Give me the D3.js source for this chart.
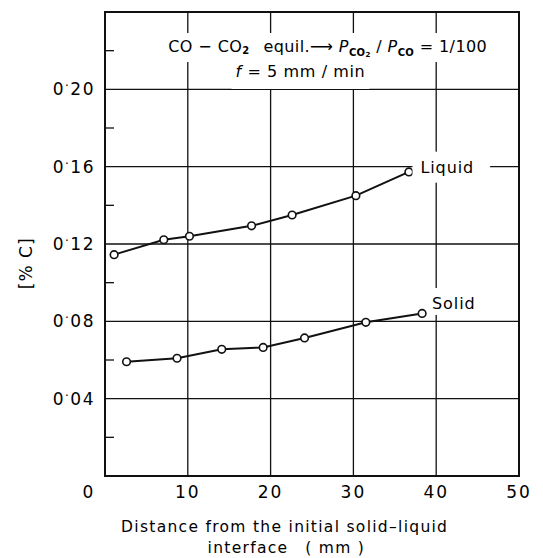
<!DOCTYPE html>
<html>
<head>
<meta charset="utf-8">
<script src="https://cdn.jsdelivr.net/npm/d3@7"></script>
<style>
  body { margin: 0; background: white; }
  svg { font-family: "DejaVu Sans", sans-serif; }
</style>
</head>
<body>
<div class="chart"></div>
<script>
// values
const liquidX = [1.1, 7.1, 10.2, 17.7, 22.6, 30.3, 36.7];
const liquidC = [0.1145, 0.1222, 0.1240, 0.1294, 0.1350, 0.1450, 0.1573];
const solidX = [2.6, 8.7, 14.1, 19.1, 24.1, 31.5, 38.3];
const solidC = [0.0591, 0.0609, 0.0655, 0.0665, 0.0714, 0.0795, 0.0841];

const xTicks = [10, 20, 30, 40, 50];
const yTicks = [0.04, 0.08, 0.12, 0.16, 0.20];
const yMinor = [0.02, 0.06, 0.10, 0.14, 0.18, 0.22];
const yTickLabels = ["0·04", "0·08", "0·12", "0·16", "0·20"];

const W = 543, H = 558;
const margin = {top: 12, right: 24, bottom: 82, left: 105};
const width = W - margin.left - margin.right;
const height = H - margin.top - margin.bottom;

const x = d3.scaleLinear().domain([0, 50]).range([0, width]);
const y = d3.scaleLinear().domain([0, 0.24]).range([height, 0]);

const svg = d3.select('div.chart')
  .append('svg')
    .attr('width', W)
    .attr('height', H);

const g = svg.append('g')
  .attr('transform', 'translate(' + margin.left + ',' + margin.top + ')');

// grid
g.append('g')
  .selectAll('line')
  .data(yTicks)
  .enter()
    .append('line')
    .attr('x1', 0).attr('x2', width)
    .attr('y1', d => y(d)).attr('y2', d => y(d))
    .style('stroke', '#111')
    .style('stroke-width', 1.3);

g.append('g')
  .selectAll('line')
  .data(xTicks.slice(0, -1))
  .enter()
    .append('line')
    .attr('x1', d => x(d)).attr('x2', d => x(d))
    .attr('y1', 0).attr('y2', height)
    .style('stroke', '#111')
    .style('stroke-width', 1.3);

// short inside ticks on the left axis
g.append('g')
  .selectAll('line')
  .data(yMinor)
  .enter()
    .append('line')
    .attr('x1', 0).attr('x2', 9)
    .attr('y1', d => y(d)).attr('y2', d => y(d))
    .style('stroke', '#111')
    .style('stroke-width', 1.3);

// white patch behind a text, so the grid looks broken there
function blank(node, padL, padR, padT, padB) {
  const b = node.node().getBBox();
  g.insert('rect', () => node.node())
    .attr('x', b.x - padL)
    .attr('y', b.y - padT)
    .attr('width', b.width + padL + padR)
    .attr('height', b.height + padT + padB)
    .style('fill', 'white');
}

// condition note in the upper box
const note1 = g.append('text')
  .attr('x', x(26.9))
  .attr('y', 40)
  .attr('text-anchor', 'middle')
  .style('font-size', '16px')
  .style('letter-spacing', '0.4px');
note1.append('tspan').text('CO − CO');
note1.append('tspan').attr('dy', 2).style('font-size', '10px').style('font-weight', 'bold').text('2');
note1.append('tspan').attr('dy', -2).text('\u2002 equil.⟶ ');
note1.append('tspan').style('font-style', 'italic').text('P');
note1.append('tspan').attr('dy', 4).style('font-size', '10px').style('font-weight', 'bold').text('CO');
note1.append('tspan').attr('dy', 1).style('font-size', '7px').style('font-weight', 'bold').text('2');
note1.append('tspan').attr('dy', -5).text(' / ');
note1.append('tspan').style('font-style', 'italic').text('P');
note1.append('tspan').attr('dy', 4).style('font-size', '10px').style('font-weight', 'bold').text('CO');
note1.append('tspan').attr('dy', -4).text(' = 1/100');
blank(note1, 4, 4, 4, 3);

const note2 = g.append('text')
  .attr('x', x(23.6))
  .attr('y', 65)
  .attr('text-anchor', 'middle')
  .style('font-size', '16px')
  .style('letter-spacing', '0.6px');
note2.append('tspan').style('font-style', 'italic').text('f');
note2.append('tspan').text(' = 5 mm / min');
blank(note2, 4, 4, 2, 8);

// series
const series = [
  {name: 'Liquid', xs: liquidX, ys: liquidC},
  {name: 'Solid', xs: solidX, ys: solidC},
];

const line = d3.line()
  .x(d => x(d[0]))
  .y(d => y(d[1]));

series.forEach(s => {
  const pts = s.xs.map((v, i) => [v, s.ys[i]]);
  g.append('path')
    .datum(pts)
    .attr('d', line)
    .style('fill', 'none')
    .style('stroke', '#111')
    .style('stroke-width', 2);
  g.append('g')
    .selectAll('circle')
    .data(pts)
    .enter()
      .append('circle')
      .attr('cx', d => x(d[0]))
      .attr('cy', d => y(d[1]))
      .attr('r', 3.8)
      .style('fill', 'white')
      .style('stroke', '#111')
      .style('stroke-width', 1.6);
});

// series names
const liqLabel = g.append('text')
  .attr('x', x(38.1))
  .attr('y', y(0.16) + 6)
  .style('font-size', '16px')
  .style('letter-spacing', '0.9px')
  .text('Liquid');
blank(liqLabel, 8, 16, 6, 6);

const solLabel = g.append('text')
  .attr('x', x(39.5))
  .attr('y', y(0.0895) + 6)
  .style('font-size', '16px')
  .style('letter-spacing', '0.9px')
  .text('Solid');
blank(solLabel, 4, 4, 6, 2);

// frame
g.append('rect')
  .attr('x', 0).attr('y', 0)
  .attr('width', width).attr('height', height)
  .style('fill', 'none')
  .style('stroke', '#111')
  .style('stroke-width', 2);

// tick labels
const yLab = g.append('g')
  .selectAll('text')
  .data(yTicks)
  .enter()
    .append('text')
    .attr('x', -10)
    .attr('y', d => y(d) + 6)
    .attr('text-anchor', 'end')
    .style('font-size', '17px')
    .style('letter-spacing', '1.5px');
yLab.append('tspan').text((d, i) => yTickLabels[i].split('·')[0]);
yLab.append('tspan').attr('dy', -5).style('font-size', '12px').text('·');
yLab.append('tspan').attr('dy', 5).text((d, i) => yTickLabels[i].split('·')[1]);

g.append('g')
  .selectAll('text')
  .data(xTicks)
  .enter()
    .append('text')
    .attr('x', d => x(d))
    .attr('y', height + 22)
    .attr('text-anchor', 'middle')
    .style('font-size', '17px')
    .style('letter-spacing', '2px')
    .text(d => d);

// shared origin label sits left of the corner
g.append('text')
  .attr('x', x(0) - 17)
  .attr('y', height + 22)
  .attr('text-anchor', 'middle')
  .style('font-size', '17px')
  .text('0');

// axis titles
const xTitle = g.append('text')
  .attr('text-anchor', 'middle')
  .style('font-size', '15.5px')
  .style('letter-spacing', '1.3px');
xTitle.append('tspan').attr('x', x(21.7)).attr('y', height + 56).text('Distance from the initial solid–liquid');
xTitle.append('tspan').attr('x', x(21.9)).attr('y', height + 77).text('interface\u2003( mm )');

g.append('text')
  .attr('transform', 'translate(' + (-73) + ',' + y(0.11) + ') rotate(-90)')
  .attr('text-anchor', 'middle')
  .style('font-size', '17px')
  .style('letter-spacing', '1px')
  .text('[% C]');
</script>
</body>
</html>
